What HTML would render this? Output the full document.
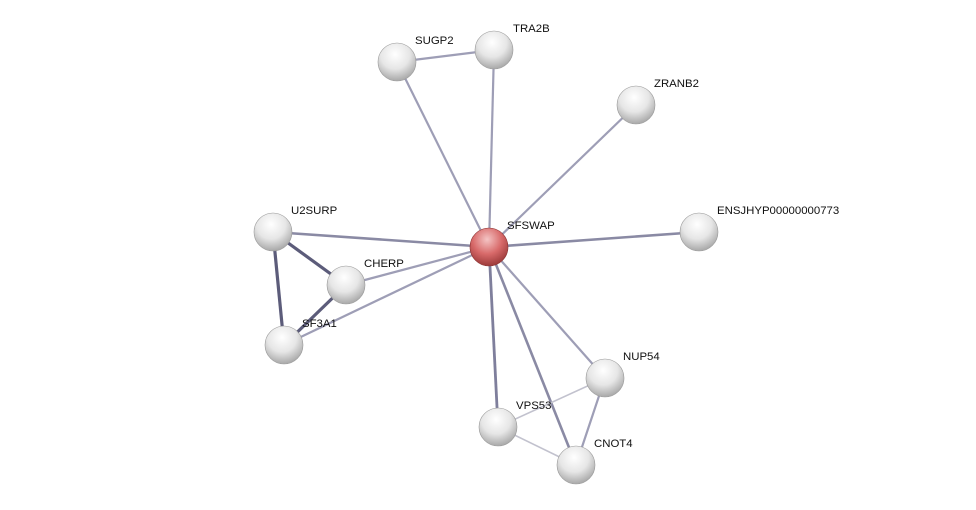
<!DOCTYPE html>
<html><head><meta charset="utf-8"><style>body{margin:0;background:#fff}svg{display:block}text{font-family:"Liberation Sans",sans-serif;font-size:11.4px;fill:#111}</style></head><body>
<svg width="976" height="510" viewBox="0 0 976 510">
<defs>
<radialGradient id="g" cx="45%" cy="30%" r="70%"><stop offset="0" stop-color="#ffffff"/><stop offset="0.55" stop-color="#e6e6e6"/><stop offset="1" stop-color="#a8a8a8"/></radialGradient>
<radialGradient id="r" cx="45%" cy="30%" r="70%"><stop offset="0" stop-color="#f4c4c4"/><stop offset="0.55" stop-color="#d86a6a"/><stop offset="1" stop-color="#9c3a3a"/></radialGradient>
</defs>
<g stroke="#9e9eb6" stroke-width="2.2" fill="none">
<line x1="397" y1="62" x2="494" y2="50"/>
<line x1="397" y1="62" x2="489" y2="247"/>
<line x1="494" y1="50" x2="489" y2="247"/>
<line x1="636" y1="105" x2="489" y2="247"/>
<line x1="699" y1="232" x2="489" y2="247" stroke="#8a8aa4" stroke-width="2.6"/>
<line x1="273" y1="232" x2="489" y2="247" stroke="#8a8aa4" stroke-width="2.6"/>
<line x1="346" y1="285" x2="489" y2="247"/>
<line x1="284" y1="345" x2="489" y2="247"/>
<line x1="605" y1="378" x2="489" y2="247"/>
<line x1="498" y1="427" x2="489" y2="247" stroke="#7f7f9c" stroke-width="2.8"/>
<line x1="576" y1="465" x2="489" y2="247" stroke="#8a8aa4" stroke-width="2.6"/>
<line x1="273" y1="232" x2="284" y2="345" stroke="#5c5c7a" stroke-width="3.2"/>
<line x1="273" y1="232" x2="346" y2="285" stroke="#5c5c7a" stroke-width="3.2"/>
<line x1="346" y1="285" x2="284" y2="345" stroke="#5c5c7a" stroke-width="3.2"/>
<line x1="605" y1="378" x2="576" y2="465"/>
<line x1="498" y1="427" x2="605" y2="378" stroke="#c2c2ce" stroke-width="1.6"/>
<line x1="498" y1="427" x2="576" y2="465" stroke="#c2c2ce" stroke-width="1.6"/>
</g>
<g fill="url(#g)" stroke="#999" stroke-width="0.6">
<circle cx="397" cy="62" r="19"/><circle cx="494" cy="50" r="19"/><circle cx="636" cy="105" r="19"/>
<circle cx="699" cy="232" r="19"/><circle cx="273" cy="232" r="19"/><circle cx="346" cy="285" r="19"/>
<circle cx="284" cy="345" r="19"/><circle cx="605" cy="378" r="19"/><circle cx="498" cy="427" r="19"/>
<circle cx="576" cy="465" r="19"/>
</g>
<circle cx="489" cy="247" r="19" fill="url(#r)" stroke="#8a3030" stroke-width="0.6"/>
<text x="415" y="44">SUGP2</text><text x="513" y="32">TRA2B</text><text x="654" y="87">ZRANB2</text>
<text x="507" y="229">SFSWAP</text><text x="717" y="214">ENSJHYP00000000773</text><text x="291" y="214">U2SURP</text>
<text x="364" y="267">CHERP</text><text x="302" y="327">SF3A1</text><text x="623" y="360">NUP54</text>
<text x="516" y="409">VPS53</text><text x="594" y="447">CNOT4</text>
</svg>
</body></html>
